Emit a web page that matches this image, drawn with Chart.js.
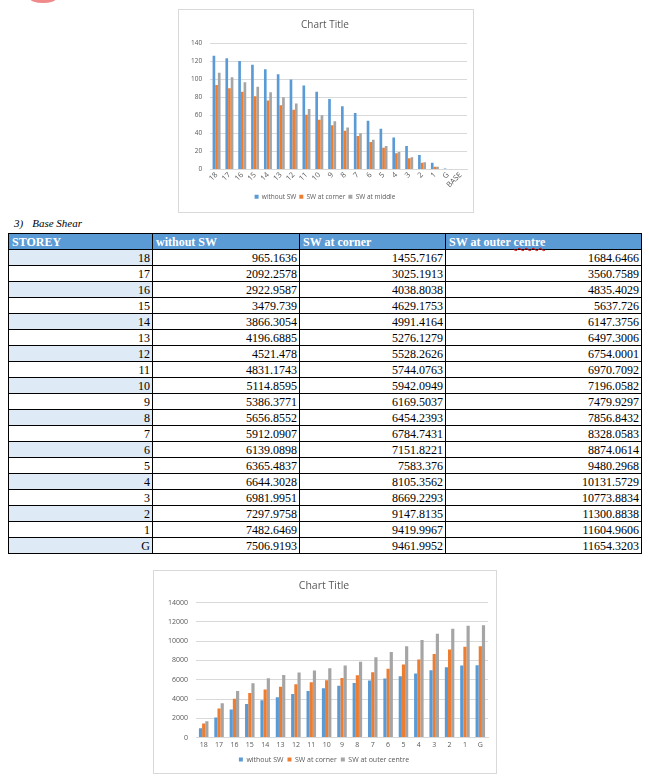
<!DOCTYPE html>
<html>
<head>
<meta charset="utf-8">
<script src="https://cdn.jsdelivr.net/npm/chart.js@4.4.1/dist/chart.umd.min.js"></script>
<style>
  body { margin: 0; background: #fff; width: 649px; height: 781px; position: relative; overflow: hidden; }
  .blob { position: absolute; left: 30px; top: -6px; width: 26px; height: 9px; border-radius: 50%; background: #f08a8a; }
  .box { position: absolute; border: 1px solid #d9d9d9; background: #fff; box-sizing: border-box; }
  #topBox { left: 178px; top: 9px; width: 296px; height: 204px; }
  #botBox { left: 153px; top: 570px; width: 344px; height: 204px; }
  .caption { position: absolute; left: 14px; top: 217px; font: italic 11px "Liberation Serif", serif; }
  .caption span { margin-left: 9px; }
  table { position: absolute; left: 8px; top: 233px; border-collapse: collapse; font: 12px "Liberation Serif", serif; }
  td, th { border: 1px solid #000; height: 15px; padding: 0 2px; line-height: 14px; }
  th { background: #5b9bd5; color: #fff; text-align: left; font-weight: bold; padding-left: 3px; }
  td { text-align: right; }
  tr:nth-child(even) td.first { background: #deeaf6; }
  .wavy { text-decoration: underline wavy #e00000; text-decoration-thickness: 1px; }
</style>
</head>
<body>
<div class="blob"></div>
<div class="box" id="topBox"><canvas id="topChart"></canvas></div>
<div class="caption">3)<span>Base Shear</span></div>
<table id="shearTable"></table>
<div class="box" id="botBox"><canvas id="botChart"></canvas></div>

<script>
  // Top chart
  const topLabels = ['18', '17', '16', '15', '14', '13', '12', '11', '10', '9', '8', '7', '6', '5', '4', '3', '2', '1', 'G', 'BASE'];
  const topWithout = [126, 123, 120, 116, 111, 105.5, 99.5, 93, 86, 78, 70, 62.5, 54, 45, 35.5, 26, 16, 7.5, 1, 0];
  const topCorner = [93.5, 90, 86, 81, 76.5, 71, 66, 60.5, 55, 49, 43, 37, 30.5, 24, 18, 12.5, 7.5, 3, 0.5, 0];
  const topMiddle = [107, 102, 96.5, 91.5, 85.5, 80, 73, 67, 60, 53.5, 46.5, 40, 33, 26, 19.5, 13.5, 8, 3, 0.3, 0];

  // Base shear table / bottom chart
  const storeys = ['18', '17', '16', '15', '14', '13', '12', '11', '10', '9', '8', '7', '6', '5', '4', '3', '2', '1', 'G'];
  const shearWithout = ['965.1636', '2092.2578', '2922.9587', '3479.739', '3866.3054', '4196.6885', '4521.478', '4831.1743', '5114.8595', '5386.3771', '5656.8552', '5912.0907', '6139.0898', '6365.4837', '6644.3028', '6981.9951', '7297.9758', '7482.6469', '7506.9193'];
  const shearCorner = ['1455.7167', '3025.1913', '4038.8038', '4629.1753', '4991.4164', '5276.1279', '5528.2626', '5744.0763', '5942.0949', '6169.5037', '6454.2393', '6784.7431', '7151.8221', '7583.376', '8105.3562', '8669.2293', '9147.8135', '9419.9967', '9461.9952'];
  const shearOuter = ['1684.6466', '3560.7589', '4835.4029', '5637.726', '6147.3756', '6497.3006', '6754.0001', '6970.7092', '7196.0582', '7479.9297', '7856.8432', '8328.0583', '8874.0614', '9480.2968', '10131.5729', '10773.8834', '11300.8838', '11604.9606', '11654.3203'];

  const BLUE = '#5b9bd5', ORANGE = '#ed7d31', GREY = '#a5a5a5', TXT = '#595959', GRID = '#d9d9d9';
  const FONT = '"Open Sans", "Liberation Sans", sans-serif';

  function buildTable() {
    const t = document.getElementById('shearTable');
    let html = '<tr><th style="width:138px">STOREY</th><th style="width:141px">without SW</th>' +
      '<th style="width:140px">SW at corner</th><th style="width:190px">SW at outer <span class="wavy">centre</span></th></tr>';
    storeys.forEach((s, i) => {
      html += `<tr><td class="first">${s}</td><td>${shearWithout[i]}</td><td>${shearCorner[i]}</td><td>${shearOuter[i]}</td></tr>`;
    });
    t.innerHTML = html;
  }

  function ds(label, data, color) {
    return { label, data, backgroundColor: color, borderWidth: 0, barPercentage: 1, categoryPercentage: 0.62 };
  }

  function baseOptions(o) {
    return {
      responsive: true,
      maintainAspectRatio: false,
      animation: false,
      layout: { padding: o.padding },
      plugins: {
        title: { display: true, text: 'Chart Title', color: TXT, font: { family: FONT, size: o.titleSize, weight: 'normal' }, padding: { top: 4, bottom: o.titleGap } },
        legend: {
          position: 'bottom',
          labels: { color: TXT, font: { family: FONT, size: o.legendSize }, boxWidth: 4, boxHeight: 4, padding: o.legendPad }
        },
        tooltip: { enabled: false }
      },
      scales: {
        x: {
          grid: { display: false, drawTicks: false },
          border: { display: true, color: GRID },
          ticks: { color: TXT, font: { family: FONT, size: o.xTickSize }, maxRotation: o.rotate, minRotation: o.rotate, autoSkip: false, padding: o.xPad }
        },
        y: {
          min: 0, max: o.max,
          grid: { color: GRID, drawTicks: false },
          border: { display: false },
          ticks: { stepSize: o.step, color: TXT, font: { family: FONT, size: o.tickSize }, padding: 8, callback: v => String(v) }
        }
      }
    };
  }

  function initCharts() {
    new Chart(document.getElementById('topChart'), {
      type: 'bar',
      data: {
        labels: topLabels,
        datasets: [ds('without SW', topWithout, BLUE), ds('SW at corner', topCorner, ORANGE), ds('SW at middle', topMiddle, GREY)]
      },
      options: baseOptions({ max: 140, step: 20, tickSize: 6.5, xTickSize: 7.5, xPad: 1, titleSize: 10, legendSize: 6.5, legendPad: 3, rotate: 45, titleGap: 12, padding: { left: 4, right: 6, top: 5, bottom: 2 } })
    });

    new Chart(document.getElementById('botChart'), {
      type: 'bar',
      data: {
        labels: storeys,
        datasets: [ds('without SW', shearWithout.map(Number), BLUE), ds('SW at corner', shearCorner.map(Number), ORANGE), ds('SW at outer centre', shearOuter.map(Number), GREY)]
      },
      options: baseOptions({ max: 14000, step: 2000, tickSize: 7, xTickSize: 7, xPad: 3, titleSize: 10.5, legendSize: 7, legendPad: 4, rotate: 0, titleGap: 10, padding: { left: 6, right: 8, top: 5, bottom: 0 } })
    });
  }

  buildTable();
  initCharts();
</script>
</body>
</html>
